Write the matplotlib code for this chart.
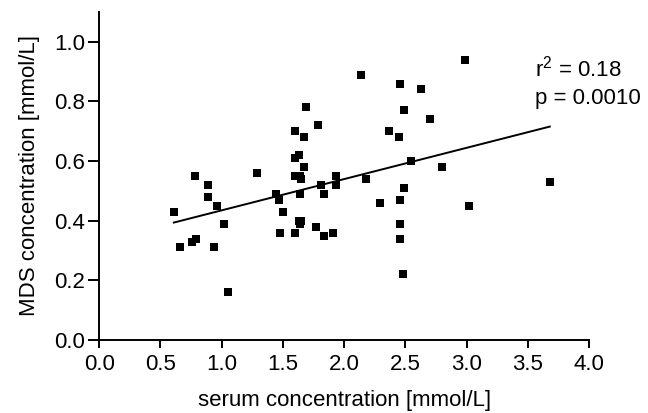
import numpy as np
import matplotlib
matplotlib.use("Agg")
import matplotlib.pyplot as plt

# serum vs MDS concentration
serum = [0.61, 0.66, 0.76, 0.79, 0.78, 0.89, 0.89, 0.96, 0.94, 1.02, 1.05,
         1.29, 1.44, 1.47, 1.50, 1.48, 1.60, 1.60, 1.63, 1.67, 1.69, 1.67,
         1.60, 1.64, 1.65, 1.64, 1.63, 1.65, 1.64, 1.60, 1.79, 1.77, 1.81,
         1.84, 1.84, 1.91, 1.93, 1.93, 2.14, 2.18, 2.29, 2.37, 2.45, 2.46,
         2.49, 2.55, 2.49, 2.46, 2.46, 2.46, 2.48, 2.63, 2.70, 2.80, 2.99,
         3.02, 3.68]
mds = [0.43, 0.31, 0.33, 0.34, 0.55, 0.52, 0.48, 0.45, 0.31, 0.39, 0.16,
       0.56, 0.49, 0.47, 0.43, 0.36, 0.70, 0.61, 0.62, 0.68, 0.78, 0.58,
       0.55, 0.55, 0.54, 0.49, 0.40, 0.40, 0.39, 0.36, 0.72, 0.38, 0.52,
       0.49, 0.35, 0.36, 0.55, 0.52, 0.89, 0.54, 0.46, 0.70, 0.68, 0.86,
       0.77, 0.60, 0.51, 0.47, 0.39, 0.34, 0.22, 0.84, 0.74, 0.58, 0.94,
       0.45, 0.53]

r2_text = "r$^2$ = 0.18"
p_text = "p = 0.0010"

plt.rcParams['font.family'] = ['Liberation Sans', 'DejaVu Sans']
plt.rcParams['mathtext.fontset'] = 'custom'
plt.rcParams['mathtext.rm'] = 'Liberation Sans'

fig = plt.figure(figsize=(6.48, 4.13), dpi=100)
ax = fig.add_axes([0.153, 0.177, 0.756, 0.794])

ax.scatter(serum, mds, marker='s', s=26, color='black', linewidths=0, zorder=3)

# linear fit
slope, icpt = np.polyfit(serum, mds, 1)
xs = np.array([min(serum), max(serum)])
ax.plot(xs, slope * xs + icpt, color='black', lw=1.4)

# stats text, two lines placed by baseline
ax.text(3.56, 0.885, r2_text, fontsize=16, va='baseline', ha='left')
ax.text(3.56, 0.79, p_text, fontsize=16, va='baseline', ha='left')

ax.set_xlim(0, 4)
ax.set_ylim(0, 1.1)
ax.set_xticks(np.arange(0, 4.01, 0.5))
ax.set_yticks(np.arange(0, 1.01, 0.2))
ax.set_xticklabels([f"{v:.1f}" for v in np.arange(0, 4.01, 0.5)])
ax.set_yticklabels([f"{v:.1f}" for v in np.arange(0, 1.01, 0.2)])
ax.tick_params(labelsize=16, width=1.4, direction='out')
ax.tick_params(axis='x', length=6, pad=4)
ax.tick_params(axis='y', length=8, pad=2)
for side in ['top', 'right']:
    ax.spines[side].set_visible(False)
for side in ['left', 'bottom']:
    ax.spines[side].set_linewidth(1.4)

ax.set_xlabel("serum concentration [mmol/L]", fontsize=16, labelpad=11)
ax.set_ylabel("MDS concentration [mmol/L]", fontsize=16, labelpad=10)

fig.savefig("out.png", dpi=100)
